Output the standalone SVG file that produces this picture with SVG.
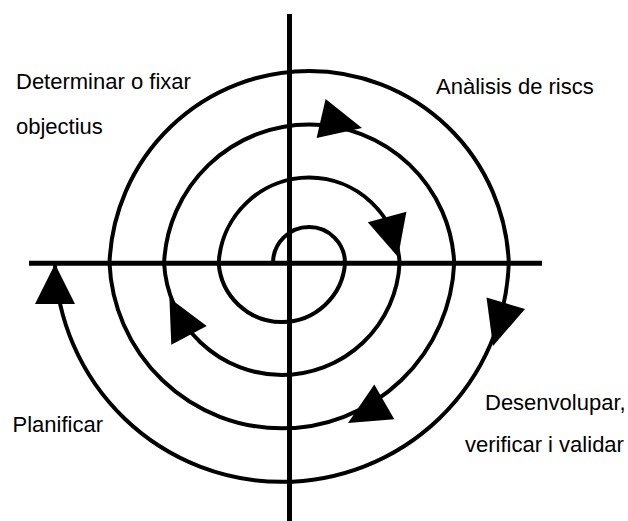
<svg xmlns="http://www.w3.org/2000/svg" width="628" height="521" viewBox="0 0 628 521">
  <style>
    .axis { stroke: #000; stroke-width: 5; fill: none; }
    .spiral { stroke: #000; stroke-width: 4; fill: none; }
    .head { fill: #000; stroke: none; }
    .label { font-family: "Liberation Sans", Arial, sans-serif; font-size: 22px; fill: #000; }
  </style>
  <rect width="628" height="521" fill="#fff"/>
  <g id="axes">
    <line class="axis" x1="289.5" y1="14" x2="289.5" y2="521"/>
    <line class="axis" x1="29" y1="263.3" x2="542" y2="263.3"/>
  </g>
  <g id="connectors">
    <path class="spiral" d="M 273 263 A 36 36 0 0 1 345 263 A 63.3 63.3 0 0 1 218.7 263 A 90.6 90.6 0 0 1 399.6 263 A 117.9 117.9 0 0 1 164.1 263 A 145.2 145.2 0 0 1 454.2 263 A 172.5 172.5 0 0 1 109.5 263 A 199.8 199.8 0 0 1 508.8 263 A 227.1 227.1 0 0 1 54.9 263"/>
    <polygon class="head" points="362,128 316.6,138 325.6,99"/>
    <polygon class="head" points="398,257 367.8,222.3 406.4,211.7"/>
    <polygon class="head" points="493,346 525,309 486.5,297.5"/>
    <polygon class="head" points="348,423 394.3,419.2 374.3,384.6"/>
    <polygon class="head" points="169.4,298 206.7,326.1 171.3,344.7"/>
    <polygon class="head" points="55,264 35,304 75,304"/>
  </g>
  <g id="label-objectius">
    <text class="label" x="16" y="88.5">Determinar o fixar</text>
    <text class="label" x="16" y="134">objectius</text>
  </g>
  <g id="label-riscs">
    <text class="label" x="436" y="93.5">Anàlisis de riscs</text>
  </g>
  <g id="label-planificar">
    <text class="label" x="12.5" y="431.5">Planificar</text>
  </g>
  <g id="label-desenvolupar">
    <text class="label" x="485" y="410">Desenvolupar,</text>
    <text class="label" x="465" y="451.5">verificar i validar</text>
  </g>
</svg>
